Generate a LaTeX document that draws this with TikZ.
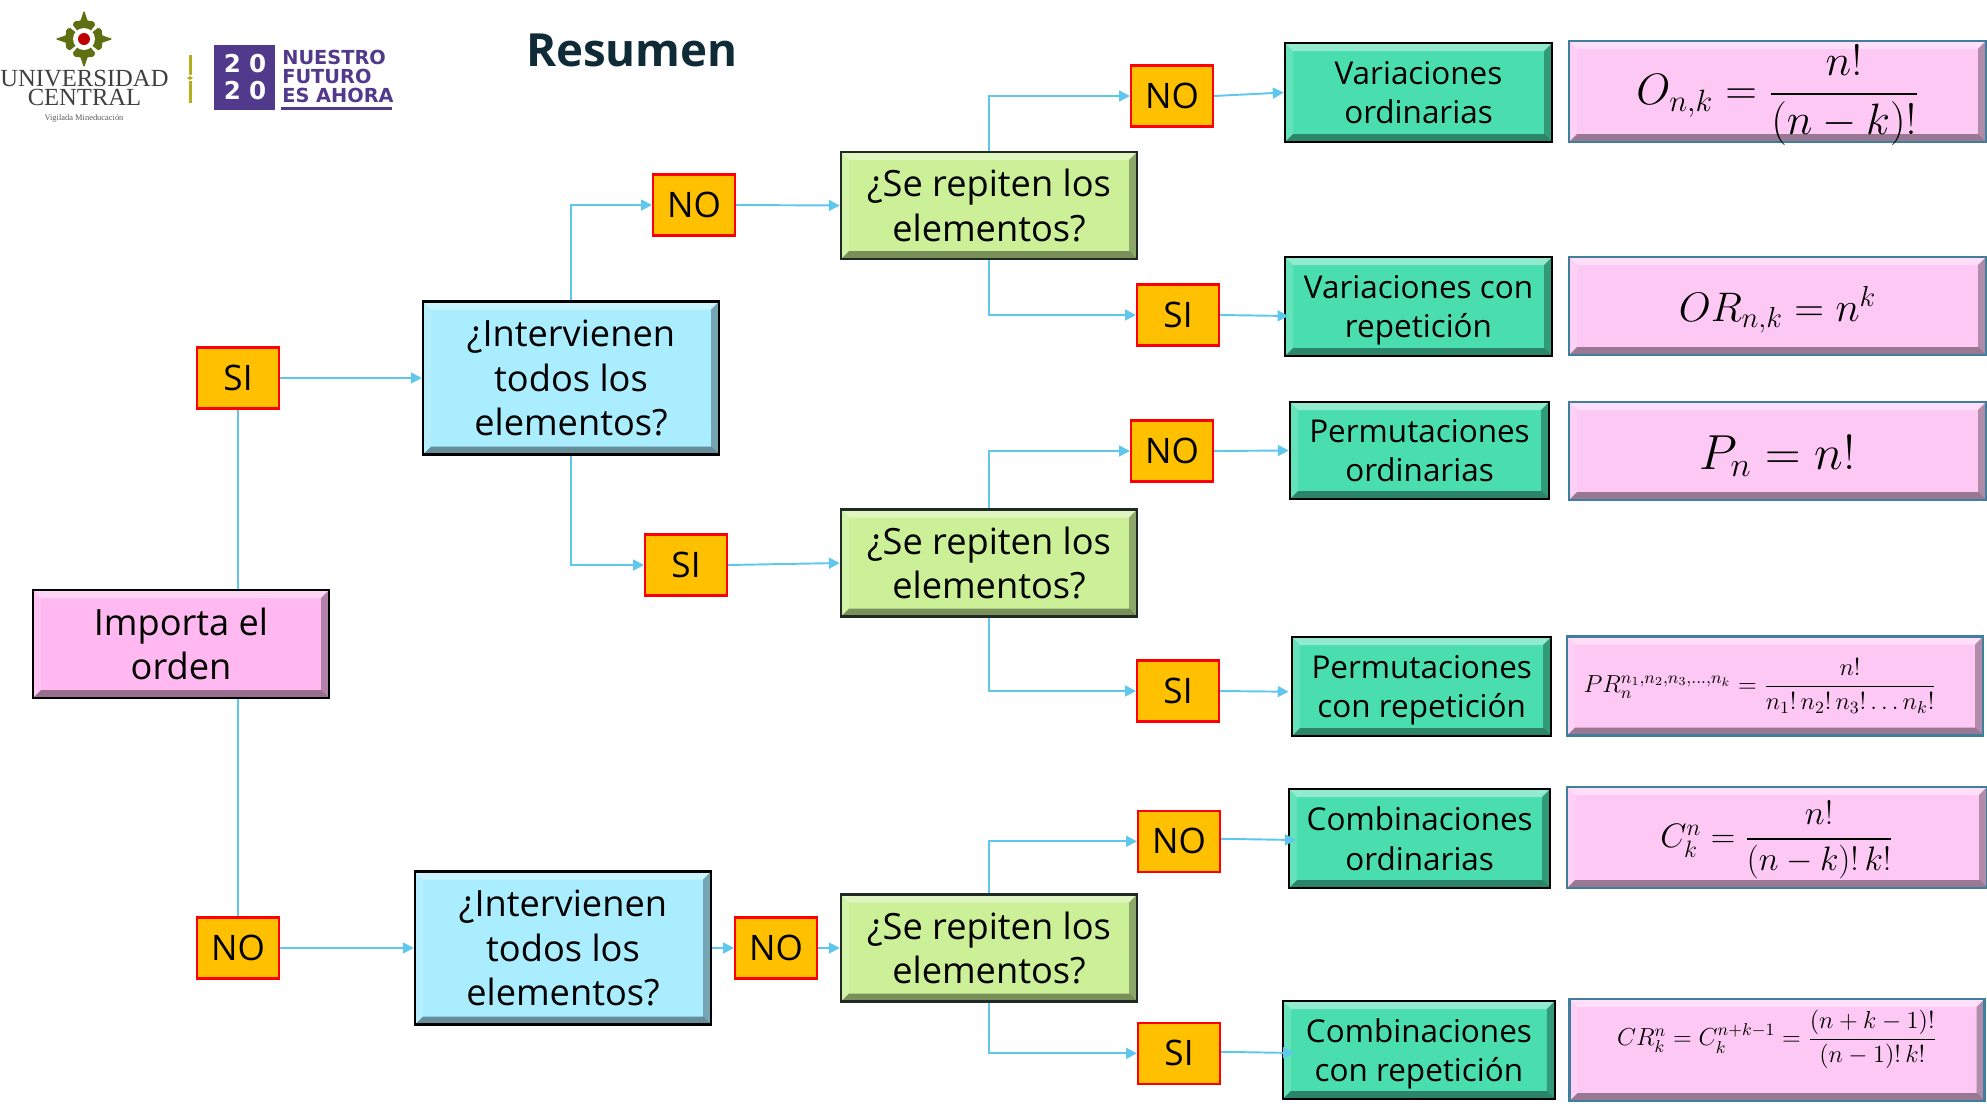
\documentclass[tikz,border=0pt]{standalone}
\usepackage{fix-cm}
\usepackage{amsmath}
\usepackage{fontspec}
\setmainfont{Open Sans}
\newfontfamily\seriffont{Liberation Serif}
\newfontfamily\widefont{DejaVu Sans}
\usetikzlibrary{calc,arrows.meta}
\definecolor{linkblue}{HTML}{5FC6EE}
\definecolor{answer}{HTML}{FFC000}
\definecolor{skyfill}{HTML}{A9EDFF}
\definecolor{limefill}{HTML}{CBF098}
\definecolor{greenfill}{HTML}{4ADEAE}
\definecolor{pinkfill}{HTML}{FEC8F4}
\definecolor{rootfill}{HTML}{FFB9F0}
\definecolor{pinkline}{HTML}{3F7F9B}
\definecolor{limeline}{HTML}{1F2A23}
\definecolor{titleink}{HTML}{0F2B37}
\definecolor{purplelogo}{HTML}{51398C}
\definecolor{olivelogo}{HTML}{5E7011}
\definecolor{goldlogo}{HTML}{B5AE1E}
\tikzset{
	link/.style={draw=linkblue, line width=1.1pt},
	arrow/.style={link, -{Triangle[length=6.2pt,width=6.2pt]}},
	dims/.style 2 args={minimum width=#1*0.02cm, minimum height=#2*0.02cm},
	bevel/.style={path picture={
		\fill[white,opacity=.4] (path picture bounding box.north west) -- (path picture bounding box.north east) -- ++(-8,8) -- ($(path picture bounding box.north west)+(8,8)$) -- cycle;
		\fill[white,opacity=.15] (path picture bounding box.north west) -- (path picture bounding box.south west) -- ++(8,-8) -- ($(path picture bounding box.north west)+(8,8)$) -- cycle;
		\fill[black,opacity=.4] (path picture bounding box.south west) -- (path picture bounding box.south east) -- ++(-8,-8) -- ($(path picture bounding box.south west)+(8,-8)$) -- cycle;
		\fill[black,opacity=.3] (path picture bounding box.south east) -- (path picture bounding box.north east) -- ++(-8,8) -- ($(path picture bounding box.south east)+(-8,-8)$) -- cycle;
	}},
	answerbox/.style={draw=red, fill=answer, line width=1.2pt, dims={82}{61}, inner sep=0pt, font=\fontsize{20}{25}\selectfont},
	askbox/.style={bevel, draw=black, line width=1.4pt, align=center, inner sep=0pt, font=\fontsize{20.6}{25.5}\selectfont},
	skybox/.style={askbox, fill=skyfill, dims={296}{153}},
	pinkbox/.style={askbox, fill=rootfill, dims={296}{108}},
	limebox/.style={askbox, draw=limeline, fill=limefill, dims={296}{107}},
	greenbox/.style={askbox, fill=greenfill, font=\fontsize{17.9}{22.5}\selectfont},
	formulabox/.style={bevel, draw=pinkline, fill=pinkfill, line width=1.4pt, inner sep=0pt},
	logotext/.style={purplelogo, inner sep=0pt, anchor=west, font=\widefont\bfseries\fontsize{11}{11}\selectfont},
	leaf/.style={fill=olivelogo, rounded corners=1pt},
}
\begin{document}
\begin{tikzpicture}[x=0.02cm,y=-0.02cm]
	\useasboundingbox (0,0) rectangle (1987,1109);
	
	% logos
	\foreach \a in {0,90,180,270}
		\fill[leaf, rotate around={\a:(84,39)}] (84,39) -- (72,24) -- (77,20) -- (80,22) -- (84,10) -- (88,22) -- (91,20) -- (96,24) -- cycle;
	\fill[white] (84,39) circle (11);
	\fill[red!75!black] (84,39) circle (6);
	\node[inner sep=0pt, align=center, font=\seriffont\fontsize{14}{11}\selectfont, black!75] (uni) at (84.5,88) {UNIVERSIDAD\\CENTRAL};
	\node[inner sep=0pt, font=\seriffont\fontsize{4.8}{5}\selectfont, black!65] (vig) at (84,118) {Vigilada Mineducación};
	\fill[goldlogo] (188.5,55) rectangle (191.5,75);
	\fill[goldlogo] (188.5,81) rectangle (191.5,103);
	\fill[goldlogo] (187,78) -- (190,76) -- (193,78) -- (190,80) -- cycle;
	\fill[purplelogo] (214,45) rectangle (275,110);
	\node[white, inner sep=0pt, font=\widefont\bfseries\fontsize{14}{14}\selectfont] (y1) at (245,64) {2\,\,0};
	\node[white, inner sep=0pt, font=\widefont\bfseries\fontsize{14}{14}\selectfont] (y2) at (245,91) {2\,\,0};
	\node[logotext] (lg1) at (282,57) {NUESTRO};
	\node[logotext] (lg2) at (282,76) {FUTURO};
	\node[logotext] (lg3) at (282,95) {ES AHORA};
	\fill[purplelogo] (281,106.5) rectangle (392,110);
	
	\node[titleink, inner sep=0pt, font=\bfseries\fontsize{26}{30}\selectfont] (title) at (632,50) {Resumen};
	
	% root
	\node[pinkbox] (importa) at (181,644) {Importa el\\orden};
	\node[answerbox] (si) at (238,378) {SI};
	\node[answerbox] (no) at (238,948) {NO};
	
	% upper branch
	\node[skybox] (todos1) at (571,378) {¿Intervienen\\todos los\\elementos?};
	\node[answerbox] (no1) at (694,205) {NO};
	\node[answerbox] (si1) at (686,565) {SI};
	\node[limebox] (rep1) at (989,205.5) {¿Se repiten los\\elementos?};
	\node[limebox] (rep2) at (989,563) {¿Se repiten los\\elementos?};
	\node[answerbox] (no11) at (1172,96) {NO};
	\node[answerbox] (si11) at (1178,315) {SI};
	\node[answerbox] (no12) at (1172,451) {NO};
	\node[answerbox] (si12) at (1178,691) {SI};
	
	% lower branch
	\node[skybox] (todos2) at (563,948) {¿Intervienen\\todos los\\elementos?};
	\node[answerbox] (no2) at (776,948) {NO};
	\node[limebox] (rep3) at (989,948) {¿Se repiten los\\elementos?};
	\node[answerbox] (no21) at (1179,841.3) {NO};
	\node[answerbox] (si21) at (1179,1053.3) {SI};
	
	% results
	\node[greenbox, dims={267}{99}] (var1) at (1418.5,92.5) {Variaciones\\ordinarias};
	\node[greenbox, dims={267}{99}] (var2) at (1418.5,306.5) {Variaciones con\\\smash{repetición}};
	\node[greenbox, dims={259}{97}] (per1) at (1419.5,450.5) {Permutaciones\\ordinarias};
	\node[greenbox, dims={259}{99}] (per2) at (1421.7,686.5) {Permutaciones\\\smash{con repetición}};
	\node[greenbox, dims={261}{99}] (com1) at (1419.7,838.5) {Combinaciones\\ordinarias};
	\node[greenbox, dims={272}{98}] (com2) at (1418.9,1050) {Combinaciones\\\smash{con repetición}};
	
	% formulas
	\node[formulabox, dims={417}{101}] (fvar1) at (1777.5,91.5) {\fontsize{25}{30}\selectfont\raisebox{-2.1pt}[\height][\depth]{$O_{n,k}=\dfrac{n!}{(n-k)!}$}};
	\node[formulabox, dims={417}{98}] (fvar2) at (1777.5,306) {\fontsize{23.5}{28}\selectfont\raisebox{-2.1pt}[\height][\depth]{$OR_{n,k}=n^{k}$}};
	\node[formulabox, dims={417}{98}] (fper1) at (1777.5,451) {\fontsize{28}{30}\selectfont\raisebox{-2.9pt}[\height][\depth]{$P_{n}=n!$}};
	\node[formulabox, dims={416}{99}] (fper2) at (1775,686) {\fontsize{14}{17}\selectfont$PR_{n}^{n_1,n_2,n_3,\dots,n_k}=\dfrac{n!}{n_1!\,n_2!\,n_3!\dots n_k!}$\hspace*{17pt}};
	\node[formulabox, dims={420}{101}] (fcom1) at (1777,837.5) {\fontsize{19.3}{23}\selectfont\raisebox{-1.4pt}[\height][\depth]{$C_{k}^{n}=\dfrac{n!}{(n-k)!\,k!}$}};
	\node[formulabox, dims={415}{102}] (fcom2) at (1777,1050) {\fontsize{14}{17}\selectfont\raisebox{6pt}[\height][\depth]{$CR_{k}^{n}=C_{k}^{n+k-1}=\dfrac{(n+k-1)!}{(n-1)!\,k!}$}};
	
	% free arrow ends
	\coordinate (in2) at (1288.5,316);
	\coordinate (in4) at (1288.6,691.7);
	\coordinate (in5) at (1296,840);
	\coordinate (in6) at (1294,1053);
	
	% connectors
	\draw[link] (si.south) -- (importa.north -| si.south);
	\draw[link] (importa.south -| no.north) -- (no.north);
	\draw[arrow] (si.east) -- (todos1.west);
	\draw[arrow] (no.east) -- (todos2.west);
	
	\draw[arrow] (todos1.north) |- (no1.west);
	\draw[arrow] (todos1.south) |- (si1.west);
	\draw[arrow] (no1.east) -- (rep1.west);
	\draw[arrow] (si1.east) -- (rep2.west);
	\draw[arrow] (todos2.east) -- (no2.west);
	\draw[arrow] (no2.east) -- (rep3.west);
	
	\draw[arrow] (rep1.north) |- (no11.west);
	\draw[arrow] (rep1.south) |- (si11.west);
	\draw[arrow] (rep2.north) |- (no12.west);
	\draw[arrow] (rep2.south) |- (si12.west);
	\draw[arrow] (rep3.north) |- (no21.west);
	\draw[arrow] (rep3.south) |- (si21.west);
	
	\draw[arrow] (no11.east) -- (var1.west);
	\draw[arrow] (si11.east) -- (in2);
	\draw[arrow] (no12.east) -- (per1.west);
	\draw[arrow] (si12.east) -- (in4);
	\draw[arrow] ([yshift=0.05cm]no21.east) -- (in5);
	\draw[arrow] ([yshift=0.03cm]si21.east) -- (in6);
\end{tikzpicture}
\end{document}
